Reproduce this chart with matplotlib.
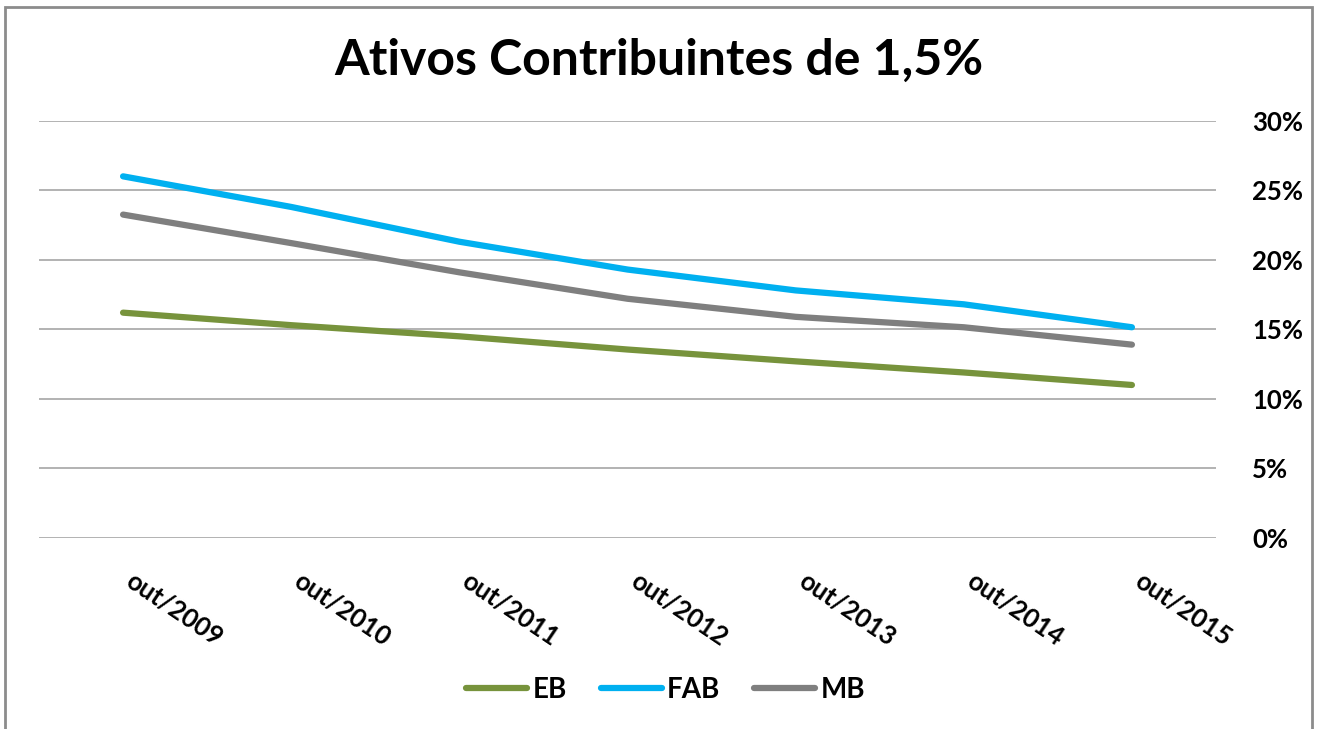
import matplotlib
matplotlib.use("Agg")
import matplotlib.pyplot as plt
from matplotlib.patches import Rectangle
from matplotlib.ticker import FuncFormatter
from matplotlib.transforms import ScaledTranslation

categories = ["out/2009", "out/2010", "out/2011", "out/2012", "out/2013", "out/2014", "out/2015"]
eb = [0.162, 0.153, 0.145, 0.1355, 0.127, 0.119, 0.110]
fab = [0.260, 0.238, 0.213, 0.193, 0.178, 0.168, 0.1515]
mb = [0.2325, 0.212, 0.191, 0.172, 0.159, 0.1515, 0.139]

plt.rcParams['font.family'] = ['Lato', 'DejaVu Sans']
plt.rcParams['font.weight'] = 'bold'

W, H = 1318, 729
fig = plt.figure(figsize=(W / 100, H / 100), dpi=100)
fig.patch.set_facecolor("white")

# outer border like the chart frame
fig.patches.append(Rectangle((5 / W, -0.01), (1312 - 5) / W, 1 - 7 / H + 0.01,
                             transform=fig.transFigure, fill=False,
                             edgecolor="#8c8c8c", linewidth=2.0))

left, right = 39 / W, 1216 / W
bottom, top = (H - 538) / H, (H - 120.7) / H
ax = fig.add_axes([left, bottom, right - left, top - bottom])

x = list(range(len(categories)))
ax.plot(x, eb, color="#77933C", lw=4.5, solid_capstyle="round", solid_joinstyle="round", label="EB", zorder=3)
ax.plot(x, fab, color="#00B0F0", lw=4.5, solid_capstyle="round", solid_joinstyle="round", label="FAB", zorder=3)
ax.plot(x, mb, color="#7F7F7F", lw=4.5, solid_capstyle="round", solid_joinstyle="round", label="MB", zorder=3)

ax.set_xlim(-0.5, len(categories) - 0.5)
ax.set_ylim(0, 0.30)
ax.set_yticks([0, 0.05, 0.10, 0.15, 0.20, 0.25, 0.30])
ax.yaxis.set_major_formatter(FuncFormatter(lambda v, p: f"{v * 100:.0f}%"))
ax.yaxis.tick_right()
ax.grid(axis="y", color="#A6A6A6", linewidth=1.2, zorder=0)
ax.set_axisbelow(True)
for s in ax.spines.values():
    s.set_visible(False)
ax.tick_params(axis="y", length=0, pad=26, labelsize=18.5)

ax.set_xticks(x)
ax.set_xticklabels(categories, rotation=-34, ha="left", va="top",
                   rotation_mode="anchor", fontsize=18.5, fontweight="bold")
ax.tick_params(axis="x", length=0, pad=22)
shift = ScaledTranslation(12 / 100, 0, fig.dpi_scale_trans)
for lbl in ax.get_xticklabels():
    lbl.set_transform(lbl.get_transform() + shift)

fig.text(0.5, (H - 60) / H, "Ativos Contribuintes de 1,5%", ha="center", va="center",
         fontsize=36, fontweight="bold")

leg = fig.legend(loc="center", bbox_to_anchor=(0.505, (H - 690) / H), ncol=3, frameon=False,
                 prop={"size": 20, "weight": "bold"}, handlelength=2.2, handletextpad=0.2,
                 columnspacing=1.2)
for l in leg.get_lines():
    l.set_linewidth(4.5)

fig.savefig("out.png", dpi=100, facecolor="white")
